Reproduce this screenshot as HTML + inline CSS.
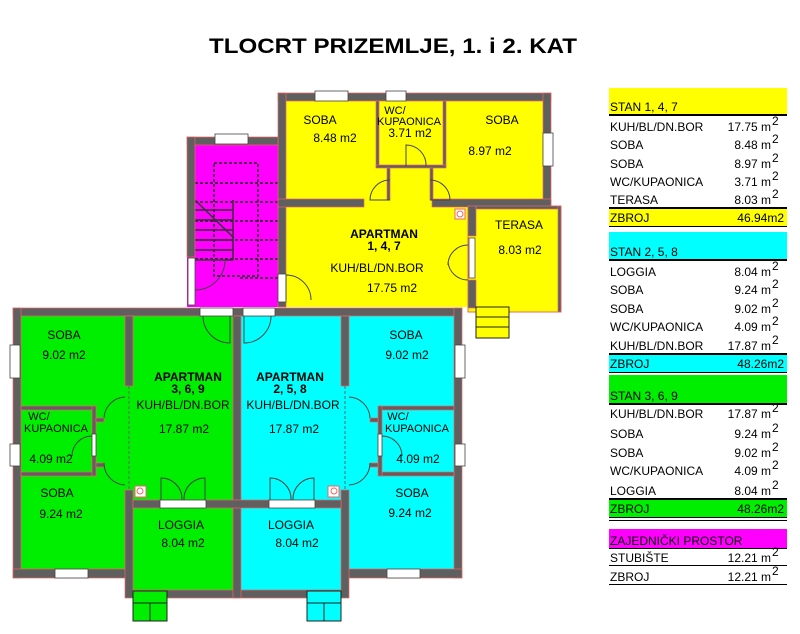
<!DOCTYPE html>
<html><head><meta charset="utf-8"><style>
body{margin:0;background:#fff;width:800px;height:634px;overflow:hidden}
svg{display:block}
text{font-family:"Liberation Sans",Arial,sans-serif;font-size:12px;fill:#000}
.b{font-weight:bold}
</style></head><body>
<svg width="800" height="634" viewBox="0 0 800 634">
<text x="393" y="53" class="b" style="font-size:21px" text-anchor="middle" textLength="368" lengthAdjust="spacingAndGlyphs">TLOCRT PRIZEMLJE, 1. i 2. KAT</text>

<!-- fills -->
<rect x="278" y="93" width="273" height="114" fill="#ffff00"/>
<rect x="278" y="199" width="198" height="108" fill="#ffff00"/>
<rect x="468" y="206" width="93" height="106" fill="#ffff00" stroke="#e66" stroke-width="1"/>
<rect x="187" y="137" width="91" height="170" fill="#ff00ff"/>
<rect x="13" y="308" width="228" height="270" fill="#00ee00"/>
<rect x="133" y="570" width="108" height="28" fill="#00ee00"/>
<rect x="241" y="308" width="221" height="270" fill="#00ffff"/>
<rect x="241" y="570" width="100" height="28" fill="#00ffff"/>

<!-- stairs -->
<g stroke="#222" stroke-width="1.5" stroke-dasharray="3,2" fill="none">
<rect x="214" y="163" width="44" height="113"/>
<line x1="195" y1="183" x2="278" y2="183"/><line x1="195" y1="202" x2="278" y2="202"/>
<line x1="195" y1="221" x2="278" y2="221"/><line x1="195" y1="240" x2="278" y2="240"/>
<line x1="195" y1="259" x2="278" y2="259"/><line x1="240" y1="278" x2="278" y2="278"/>
</g>
<g stroke="#333" stroke-width="1.5"><line x1="195" y1="200" x2="234" y2="238"/>
<line x1="195" y1="210" x2="233" y2="210"/><line x1="195" y1="220" x2="233" y2="220"/><line x1="195" y1="230" x2="233" y2="230"/><line x1="195" y1="240" x2="233" y2="240"/><line x1="195" y1="250" x2="233" y2="250"/><line x1="195" y1="260" x2="233" y2="260"/><line x1="233" y1="200" x2="233" y2="260"/></g>

<!-- walls -->
<g fill="#5f5f5f" stroke="#e66" stroke-width="0.7">
<!-- top block -->
<rect x="278" y="93" width="273" height="8"/>
<rect x="278" y="93" width="8" height="214"/>
<rect x="543" y="93" width="8" height="114"/>
<rect x="376" y="101" width="3" height="66"/>
<rect x="443" y="101" width="3" height="66"/>
<rect x="376" y="165" width="70" height="3"/>
<rect x="278" y="199" width="86" height="8"/>
<rect x="432" y="199" width="119" height="8"/>
<rect x="387" y="168" width="3" height="32"/>
<rect x="430" y="168" width="3" height="32"/>
<rect x="468" y="206" width="8" height="30"/>
<rect x="468" y="280" width="8" height="28"/>
<rect x="476" y="206" width="85" height="3"/>
<rect x="558" y="206" width="3" height="106"/>
<!-- stair -->
<rect x="187" y="137" width="91" height="8"/>
<rect x="187" y="137" width="8" height="120"/>
<!-- bottom -->
<rect x="13" y="308" width="449" height="8"/>
<rect x="13" y="308" width="8" height="270"/>
<rect x="454" y="308" width="8" height="270"/>
<rect x="13" y="569" width="120" height="9"/>
<rect x="341" y="569" width="121" height="9"/>
<rect x="133" y="590" width="208" height="8"/>
<rect x="125" y="316" width="8" height="70"/>
<rect x="125" y="490" width="8" height="108"/>
<rect x="233" y="316" width="8" height="282"/>
<rect x="341" y="316" width="8" height="70"/>
<rect x="341" y="490" width="8" height="108"/>
<rect x="21" y="406" width="75" height="4"/>
<rect x="21" y="472" width="75" height="4"/>
<rect x="92" y="406" width="4" height="70"/>
<rect x="96" y="418" width="8" height="4"/>
<rect x="96" y="463" width="8" height="4"/>
<rect x="380" y="406" width="74" height="4"/>
<rect x="380" y="472" width="74" height="4"/>
<rect x="378" y="406" width="4" height="70"/>
<rect x="370" y="418" width="8" height="4"/>
<rect x="370" y="463" width="8" height="4"/>
<rect x="133" y="500" width="208" height="8"/>
</g>
<!-- openings / windows -->
<g fill="#fff" stroke="#444" stroke-width="0.8">
<rect x="315" y="91" width="33" height="10"/><rect x="386" y="91" width="20" height="10"/>
<rect x="543" y="133" width="10" height="33"/><rect x="215" y="134" width="33" height="10"/>
<rect x="188" y="258" width="7" height="47"/><rect x="278" y="274" width="8" height="28"/>
<rect x="469" y="238" width="6" height="40"/>
<rect x="200" y="308" width="33" height="8"/><rect x="243" y="308" width="32" height="8"/>
<rect x="10" y="345" width="10" height="33"/><rect x="10" y="444" width="10" height="22"/>
<rect x="455" y="345" width="10" height="33"/><rect x="455" y="444" width="10" height="22"/>
<rect x="55" y="569" width="33" height="9"/><rect x="387" y="569" width="33" height="9"/>
<rect x="160" y="500" width="46" height="8"/><rect x="269" y="500" width="46" height="8"/>
<rect x="92" y="434" width="4" height="22"/><rect x="378" y="434" width="4" height="22"/>
</g>
<!-- doors -->
<g fill="none" stroke="#444" stroke-width="1">
<path d="M406 166 L406 145 A20 20 0 0 1 426 166"/>
<path d="M390 200 L370 200 A20 20 0 0 1 390 180"/>
<path d="M430 200 L450 200 A20 20 0 0 0 430 180"/>
<path d="M286 300 L286 275 A25 25 0 0 1 311 300"/>
<path d="M468 245 A20 20 0 0 0 448 265"/><path d="M468 280 A20 20 0 0 1 448 262"/>
<path d="M195 265 L225 265 A30 30 0 0 1 195 295" transform="translate(0 -5)"/>
<path d="M230 316 L230 343 A27 27 0 0 1 203 316"/>
<path d="M244 316 L244 343 A27 27 0 0 0 271 316"/>
<path d="M125 397 A22 22 0 0 0 104 418"/><path d="M125 485 A22 22 0 0 1 104 463"/>
<path d="M92 436 A20 20 0 0 0 72 456"/>
<path d="M349 397 A22 22 0 0 1 370 418"/><path d="M349 485 A22 22 0 0 0 370 463"/>
<path d="M382 436 A20 20 0 0 1 402 456"/>
<path d="M161 500 L161 478 A21 21 0 0 1 182 500"/><path d="M205 500 L205 478 A21 21 0 0 0 184 500"/>
<path d="M270 500 L270 478 A21 21 0 0 1 291 500"/><path d="M314 500 L314 478 A21 21 0 0 0 293 500"/>
</g>
<g fill="none" stroke="#666" stroke-dasharray="3,2"><line x1="129" y1="386" x2="129" y2="490"/><line x1="345" y1="386" x2="345" y2="490"/></g>
<g fill="#fff" stroke="#e66"><rect x="455" y="209" width="10" height="10"/><rect x="135" y="486" width="11" height="11"/><rect x="328" y="486" width="11" height="11"/></g>
<g fill="none" stroke="#e66"><circle cx="460" cy="214" r="3"/><circle cx="140" cy="491" r="3"/><circle cx="334" cy="491" r="3"/></g>
<!-- steps -->
<g stroke="#222" stroke-width="1"><rect x="476" y="307" width="33" height="31" fill="#ffff00"/><line x1="476" y1="317" x2="509" y2="317"/><line x1="476" y1="327" x2="509" y2="327"/>
<rect x="133" y="591" width="34" height="30" fill="#00ee00"/><line x1="133" y1="603" x2="167" y2="603"/><line x1="150" y1="603" x2="150" y2="621"/>
<rect x="307" y="591" width="34" height="30" fill="#00ffff"/><line x1="307" y1="603" x2="341" y2="603"/><line x1="324" y1="603" x2="324" y2="621"/></g>

<!-- room labels -->
<g text-anchor="middle">
<text x="320" y="124">SOBA</text><text x="335" y="142">8.48 m2</text>
<text x="395" y="114" style="font-size:11px">WC/</text><text x="409" y="125" style="font-size:11px">KUPAONICA</text><text x="410" y="137">3.71 m2</text>
<text x="502" y="124">SOBA</text><text x="490" y="155">8.97 m2</text>
<text x="384" y="238" class="b">APARTMAN</text><text x="384" y="250" class="b">1, 4, 7</text>
<text x="377" y="272">KUH/BL/DN.BOR</text><text x="392" y="292">17.75 m2</text>
<text x="519" y="229">TERASA</text><text x="520" y="254">8.03 m2</text>
<text x="64" y="339">SOBA</text><text x="64" y="359">9.02 m2</text>
<text x="188" y="381" class="b">APARTMAN</text><text x="188" y="393" class="b">3, 6, 9</text>
<text x="183" y="409">KUH/BL/DN.BOR</text><text x="184" y="433">17.87 m2</text>
<text x="290" y="381" class="b">APARTMAN</text><text x="290" y="393" class="b">2, 5, 8</text>
<text x="293" y="409">KUH/BL/DN.BOR</text><text x="294" y="433">17.87 m2</text>
<text x="406" y="339">SOBA</text><text x="407" y="359">9.02 m2</text>
<text x="39" y="420" style="font-size:11px">WC/</text><text x="56" y="432" style="font-size:11px">KUPAONICA</text><text x="51" y="463">4.09 m2</text>
<text x="398" y="420" style="font-size:11px">WC/</text><text x="417" y="432" style="font-size:11px">KUPAONICA</text><text x="418" y="463">4.09 m2</text>
<text x="57" y="497">SOBA</text><text x="61" y="518">9.24 m2</text>
<text x="412" y="497">SOBA</text><text x="410" y="517">9.24 m2</text>
<text x="181" y="529">LOGGIA</text><text x="183" y="547">8.04 m2</text>
<text x="291" y="529">LOGGIA</text><text x="297" y="547">8.04 m2</text>
</g>

<!-- table -->
<g>
<rect x="609" y="88" width="178" height="26" fill="#ffff00"/><rect x="609" y="114" width="178" height="2" fill="#000"/>
<rect x="609" y="208" width="178" height="18" fill="#ffff00"/><rect x="609" y="207" width="178" height="2" fill="#000"/><rect x="609" y="226" width="178" height="1" fill="#000"/>
<rect x="609" y="232" width="178" height="27" fill="#00ffff"/><rect x="609" y="259" width="178" height="2" fill="#000"/>
<rect x="609" y="354" width="178" height="18" fill="#00ffff"/><rect x="609" y="353" width="178" height="2" fill="#000"/><rect x="609" y="372" width="178" height="1" fill="#000"/>
<rect x="609" y="375" width="178" height="28" fill="#00ee00"/><rect x="609" y="403" width="178" height="2" fill="#000"/>
<rect x="609" y="499" width="178" height="18" fill="#00ee00"/><rect x="609" y="498" width="178" height="2" fill="#000"/><rect x="609" y="517" width="178" height="1" fill="#000"/>
<rect x="609" y="520" width="178" height="1" fill="#000"/>
<rect x="609" y="529" width="178" height="19" fill="#ff00ff"/><rect x="609" y="548" width="178" height="1" fill="#000"/>
<rect x="609" y="565" width="178" height="1" fill="#000"/><rect x="609" y="584" width="178" height="1" fill="#000"/>
</g>
<g style="font-size:13px">
<text x="610" y="111">STAN 1, 4, 7</text>
<text x="610" y="256">STAN 2, 5, 8</text>
<text x="610" y="400">STAN 3, 6, 9</text>
<text x="610" y="545">ZAJEDNIČKI PROSTOR</text>
<text x="610" y="222">ZBROJ</text><text x="784" y="222" text-anchor="end">46.94m2</text>
<text x="610" y="368">ZBROJ</text><text x="784" y="368" text-anchor="end">48.26m2</text>
<text x="610" y="513">ZBROJ</text><text x="784" y="513" text-anchor="end">48.26m2</text>
</g>
<g>
<text x="610" y="131">KUH/BL/DN.BOR</text><text x="771" y="131" text-anchor="end">17.75 m</text>
<text x="610" y="149">SOBA</text><text x="771" y="149" text-anchor="end">8.48 m</text>
<text x="610" y="168">SOBA</text><text x="771" y="168" text-anchor="end">8.97 m</text>
<text x="610" y="186">WC/KUPAONICA</text><text x="771" y="186" text-anchor="end">3.71 m</text>
<text x="610" y="204">TERASA</text><text x="771" y="204" text-anchor="end">8.03 m</text>
<text x="610" y="276">LOGGIA</text><text x="771" y="276" text-anchor="end">8.04 m</text>
<text x="610" y="294">SOBA</text><text x="771" y="294" text-anchor="end">9.24 m</text>
<text x="610" y="313">SOBA</text><text x="771" y="313" text-anchor="end">9.02 m</text>
<text x="610" y="331">WC/KUPAONICA</text><text x="771" y="331" text-anchor="end">4.09 m</text>
<text x="610" y="350">KUH/BL/DN.BOR</text><text x="771" y="350" text-anchor="end">17.87 m</text>
<text x="610" y="418">KUH/BL/DN.BOR</text><text x="771" y="418" text-anchor="end">17.87 m</text>
<text x="610" y="438">SOBA</text><text x="771" y="438" text-anchor="end">9.24 m</text>
<text x="610" y="457">SOBA</text><text x="771" y="457" text-anchor="end">9.02 m</text>
<text x="610" y="475">WC/KUPAONICA</text><text x="771" y="475" text-anchor="end">4.09 m</text>
<text x="610" y="495">LOGGIA</text><text x="771" y="495" text-anchor="end">8.04 m</text>
<text x="610" y="562">STUBIŠTE</text><text x="771" y="562" text-anchor="end">12.21 m</text>
<text x="610" y="581">ZBROJ</text><text x="771" y="581" text-anchor="end">12.21 m</text>
</g>
<g style="font-size:8px">
<text x="772" y="125">2</text><text x="772" y="143">2</text><text x="772" y="162">2</text><text x="772" y="180">2</text><text x="772" y="198">2</text>
<text x="772" y="270">2</text><text x="772" y="288">2</text><text x="772" y="307">2</text><text x="772" y="325">2</text><text x="772" y="344">2</text>
<text x="772" y="412">2</text><text x="772" y="432">2</text><text x="772" y="451">2</text><text x="772" y="469">2</text><text x="772" y="489">2</text>
<text x="772" y="556">2</text><text x="772" y="575">2</text>
</g>
</svg>
</body></html>
